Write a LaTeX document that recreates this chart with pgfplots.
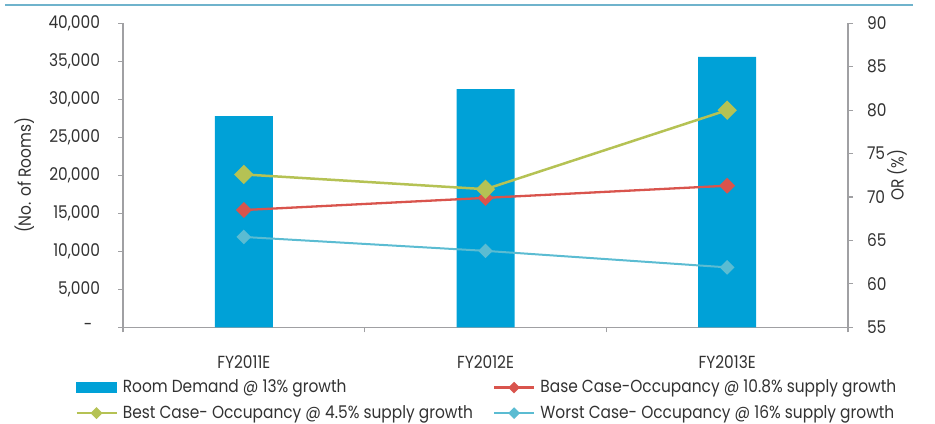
\documentclass[border=0pt]{standalone}
\usepackage{fontspec}
\setmainfont{Poppins}[FakeStretch=0.88]
\usepackage{pgfplots}
\pgfplotsset{compat=1.18}
\definecolor{barblue}{RGB}{0,161,215}
\definecolor{bestc}{RGB}{181,194,84}
\definecolor{basec}{RGB}{217,84,77}
\definecolor{worstc}{RGB}{91,188,210}
\definecolor{axgray}{RGB}{160,160,163}
\definecolor{topline}{RGB}{111,179,204}
\definecolor{txt}{RGB}{50,50,50}
\pgfplotsset{
  common/.style={
    at={(123bp,95.7bp)}, anchor=south west,
    width=725bp, height=304bp, scale only axis,
    xmin=-0.5, xmax=2.5,
    tick align=outside,
    major tick length=5bp,
    tick style={axgray, line width=1.2bp},
    axis line style={axgray, line width=1.5bp},
    /pgf/number format/assume math mode=true,
    scaled y ticks=false,
    tick label style={text=txt},
    label style={text=txt},
  },
}
\begin{document}
\fontsize{17.5bp}{21bp}\selectfont
\begin{tikzpicture}[x=1bp,y=1bp]
\path[use as bounding box] (0,0) rectangle (935,423);
\draw[topline, line width=1.5bp] (5,418) -- (913,418);
\begin{axis}[
  common,
  axis x line*=bottom, axis y line*=left,
  xtick={-0.5,0.5,1.5,2.5}, xticklabels={},
  extra x ticks={0,1,2},
  extra x tick labels={FY2011E,FY2012E,FY2013E},
  extra x tick style={major tick length=0pt, xticklabel style={yshift=-22bp}},
  ymin=0, ymax=40000,
  ytick={0,5000,10000,15000,20000,25000,30000,35000,40000},
  yticklabels={{\makebox[16bp][l]{-}},{5,000},{10,000},{15,000},{20,000},{25,000},{30,000},{35,000},{40,000}},
  yticklabel style={xshift=-12bp},
  ylabel={(No. of Rooms)},
  ylabel style={at={(rel axis cs:-0.136,0.5)}, anchor=center},
]
\addplot[ybar, fill=barblue, draw=none, bar width=58bp] coordinates {(0,27800) (1,31350) (2,35570)};
\end{axis}
\begin{axis}[
  common,
  axis x line=none, axis y line*=right,
  ymin=55, ymax=90,
  ytick={55,60,65,70,75,80,85,90},
  yticklabel style={xshift=8bp},
  ylabel={OR (\%)},
  ylabel style={at={(rel axis cs:1.0676,0.5)}, anchor=center},
  legend columns=2,
  legend style={at={(rel axis cs:-0.0662,-0.172)}, anchor=north west, draw=none, fill=none,
    inner sep=0pt, text=txt, row sep=10bp,
    nodes={inner sep=0pt, anchor=west},
    /tikz/every odd column/.append style={column sep=5bp},
    /tikz/every even column/.append style={column sep=0bp}},
  legend image code/.code={\draw[#1, mark repeat=2, mark phase=2] plot coordinates {(0bp,0bp) (20bp,0bp) (40bp,0bp)};},
]
\addlegendimage{legend image code/.code={\fill[barblue] (0bp,-5bp) rectangle (40bp,5bp);}}
\addlegendentry{\makebox[370bp][l]{Room Demand @ 13\% growth}}
\addlegendimage{basec, line width=2.6bp, mark=square*, mark size=2.8bp, mark options={rotate=45, fill=basec, draw=none}}
\addlegendentry{Base Case-Occupancy @ 10.8\% supply growth}
\addlegendimage{bestc, line width=2.6bp, mark=square*, mark size=3bp, mark options={rotate=45, fill=bestc, draw=none}}
\addlegendentry{\makebox[370bp][l]{Best Case- Occupancy @ 4.5\% supply growth}}
\addlegendimage{worstc, line width=2.6bp, mark=square*, mark size=2.8bp, mark options={rotate=45, fill=worstc, draw=none}}
\addlegendentry{Worst Case- Occupancy @ 16\% supply growth}
\addplot[forget plot, basec, line width=2.3bp, mark=square*, mark size=4.5bp, mark options={rotate=45, fill=basec, draw=none}]
  coordinates {(0,68.5) (1,69.9) (2,71.3)};
\addplot[forget plot, bestc, line width=2.5bp, mark=square*, mark size=5.6bp, mark options={rotate=45, fill=bestc, draw=none}]
  coordinates {(0,72.6) (1,70.9) (2,80.0)};
\addplot[forget plot, worstc, line width=2bp, mark=square*, mark size=4.2bp, mark options={rotate=45, fill=worstc, draw=none}]
  coordinates {(0,65.4) (1,63.8) (2,61.9)};
\end{axis}
\end{tikzpicture}
\end{document}
